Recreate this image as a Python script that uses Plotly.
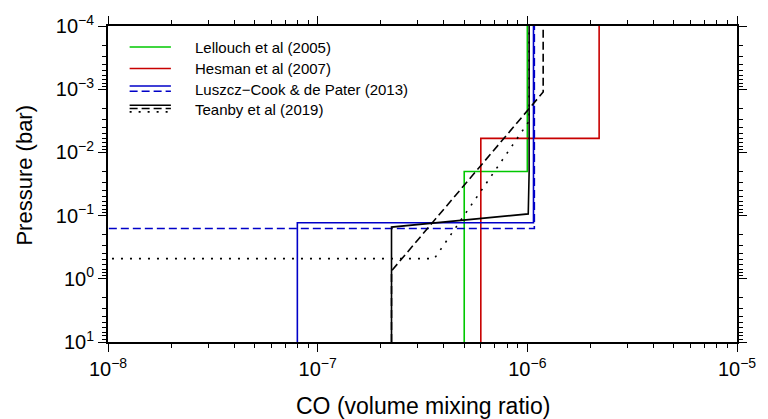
import plotly.graph_objects as go

# ---- data (CO volume mixing ratio vs pressure in bar) ----
lellouch_x = [5e-7, 5e-7, 1e-6, 1e-6]
lellouch_p = [10, 0.02, 0.02, 1e-4]

hesman_x = [6e-7, 6e-7, 2.2e-6, 2.2e-6]
hesman_p = [10, 6e-3, 6e-3, 1e-4]

luszcz_solid_x = [8e-8, 8e-8, 1.07e-6, 1.07e-6]
luszcz_solid_p = [10, 0.13, 0.13, 1e-4]

luszcz_dash_x = [1e-9, 1e-9, 1.08e-6, 1.08e-6]
luszcz_dash_p = [10, 0.16, 0.16, 1e-4]

teanby_solid_x = [2.25e-7, 2.25e-7, 1.01e-6, 1.02e-6, 1.02e-6]
teanby_solid_p = [10, 0.152, 0.094, 0.02, 1e-4]

teanby_dash_x = [2.25e-7, 2.25e-7, 1.19e-6, 1.19e-6]
teanby_dash_p = [10, 0.75, 1.11e-3, 1e-4]

teanby_dot_x = [1e-9, 1e-9, 3.6e-7, 1.02e-6, 1.02e-6]
teanby_dot_p = [10, 0.48, 0.48, 3.2e-3, 1e-4]

legend_labels = ["Lellouch et al (2005)", "Hesman et al (2007)",
                 "Luszcz\u2212Cook & de Pater (2013)", "Teanby et al (2019)"]

x_tickvals = [1e-8, 1e-7, 1e-6, 1e-5]
x_ticktext = ["10<sup>\u22128</sup>", "10<sup>\u22127</sup>", "10<sup>\u22126</sup>", "10<sup>\u22125</sup>"]
y_tickvals = [1e-4, 1e-3, 1e-2, 1e-1, 1, 10]
y_ticktext = ["10<sup>\u22124</sup>", "10<sup>\u22123</sup>", "10<sup>\u22122</sup>",
              "10<sup>\u22121</sup>", "10<sup>0</sup>", "10<sup>1</sup>"]

# minor tick positions (2..9 within each decade)
def minor_ticks(decades):
    return [m * d for d in decades[:-1] for m in range(2, 10)]

x_minor = minor_ticks(x_tickvals)
y_minor = minor_ticks(y_tickvals)

GREEN = "rgb(0,200,0)"
RED = "rgb(200,0,0)"
BLUE = "rgb(0,0,200)"
BLACK = "black"
LW = 1.6
DASH = "8px,4px"
DOT = "2px,7px"

fig = go.Figure()

def add(x, p, color, dash="solid"):
    fig.add_trace(go.Scatter(x=x, y=p, mode="lines",
                             line=dict(color=color, width=LW, dash=dash),
                             showlegend=False, hoverinfo="skip"))

add(lellouch_x, lellouch_p, GREEN)
add(hesman_x, hesman_p, RED)
add(luszcz_solid_x, luszcz_solid_p, BLUE)
add(luszcz_dash_x, luszcz_dash_p, BLUE, DASH)
add(teanby_solid_x, teanby_solid_p, BLACK)
add(teanby_dash_x, teanby_dash_p, BLACK, DASH)
add(teanby_dot_x, teanby_dot_p, BLACK, DOT)

FONT = "Liberation Sans, Arial, sans-serif"

# ---- manual legend ----
W, H, L, T = 640.0, 320.0, 108.0, 22.0
def px(xp):
    return (xp - L) / W
def py(yp):
    return (T + H - yp) / H

x0, x1 = px(130), px(172)
samples = [
    (43.3, GREEN, "solid"),
    (65.0, RED, "solid"),
    (82.7, BLUE, "solid"),
    (88.0, BLUE, DASH),
    (102.3, BLACK, "solid"),
    (105.6, BLACK, DASH),
    (109.0, BLACK, DOT),
]
shapes = []
for yy, c, d in samples:
    shapes.append(dict(type="line", xref="paper", yref="paper",
                       x0=x0, x1=x1, y0=py(yy), y1=py(yy),
                       line=dict(color=c, width=LW, dash=d)))

text_rows = [43.3, 65.0, 86.5, 106.5]
annotations = []
for lab, yy in zip(legend_labels, text_rows):
    annotations.append(dict(text=lab, xref="paper", yref="paper",
                            x=px(194), y=py(yy), xanchor="left", yanchor="middle",
                            showarrow=False, font=dict(size=15, color="black", family=FONT)))

annotations.append(dict(text="CO (volume mixing ratio)", xref="paper", yref="paper",
                        x=0.5, y=py(407), xanchor="center", yanchor="middle",
                        showarrow=False, font=dict(size=23, color="black", family=FONT)))
annotations.append(dict(text="Pressure (bar)", xref="paper", yref="paper",
                        x=px(23), y=py(173), xanchor="center", yanchor="middle", textangle=-90,
                        showarrow=False, font=dict(size=22, color="black", family=FONT)))

def axis_common(minor_vals):
    return dict(showline=True, linecolor="black", linewidth=2, mirror="allticks",
                ticks="outside", ticklen=8, tickwidth=1, tickcolor="black",
                showgrid=False, zeroline=False,
                tickfont=dict(size=20, color="black", family=FONT),
                minor=dict(ticks="outside", ticklen=4, tickwidth=1, tickcolor="black",
                           tickmode="array", tickvals=minor_vals, showgrid=False))

fig.update_xaxes(type="log", range=[-8, -5], tickmode="array",
                 tickvals=x_tickvals, ticktext=x_ticktext, **axis_common(x_minor))
fig.update_yaxes(type="log", range=[1, -4], tickmode="array",
                 tickvals=y_tickvals, ticktext=y_ticktext, **axis_common(y_minor))

fig.update_layout(width=768, height=419,
                  margin=dict(l=108, r=20, t=22, b=77),
                  paper_bgcolor="white", plot_bgcolor="white",
                  shapes=shapes, annotations=annotations,
                  font=dict(family=FONT, color="black"))

fig.write_html("out.html")
